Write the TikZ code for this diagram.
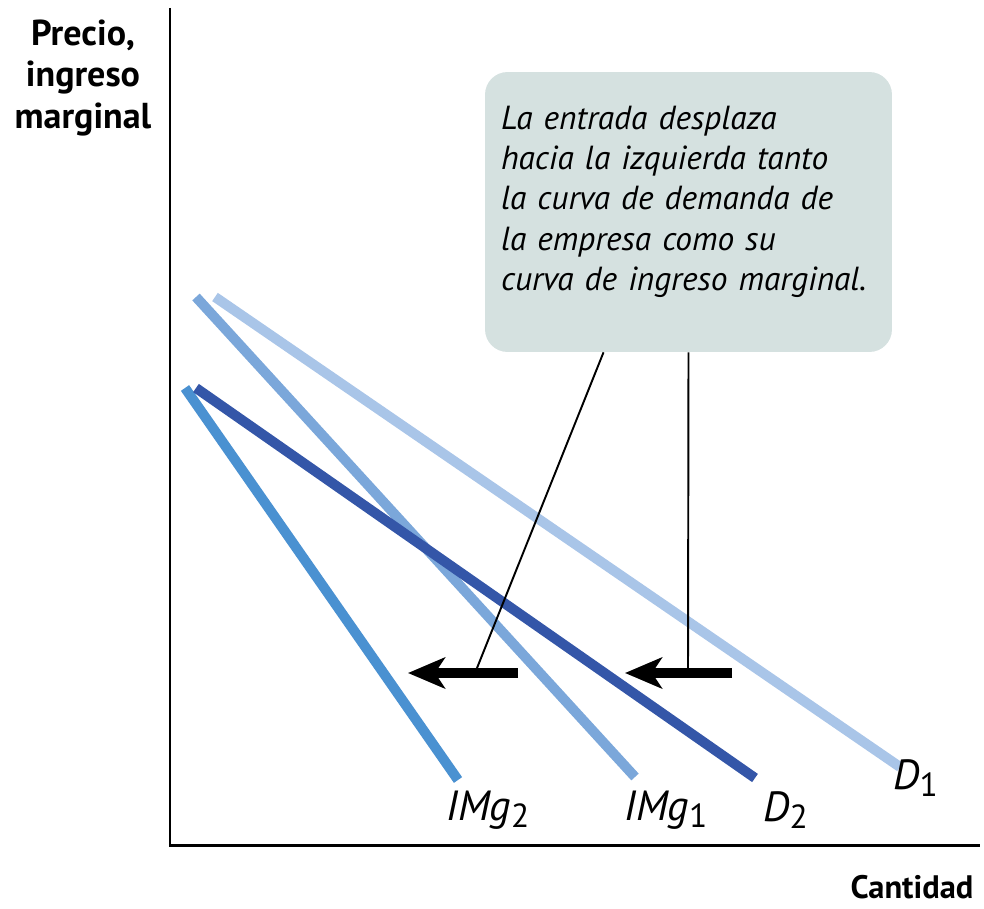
\documentclass[tikz,border=0pt]{standalone}
\usepackage{fontspec}
\setmainfont{PT Sans}
\usetikzlibrary{arrows.meta}
\definecolor{done}{HTML}{A9C5E8}
\definecolor{imgone}{HTML}{7BA7DA}
\definecolor{dtwo}{HTML}{3456A8}
\definecolor{imgtwo}{HTML}{4A91D1}
\definecolor{notefill}{HTML}{D5E1E0}
\newcommand{\curvelbl}[2]{{\itshape #1}\raisebox{-0.35ex}{\fontsize{19}{19}\selectfont #2}}

\begin{document}
\begin{tikzpicture}[x=0.02cm, y=-0.02cm,
  curve/.style={line width=5.7pt},
  shiftarrow/.style={line width=5.7pt, -{Stealth[length=7.4mm, width=6.2mm, inset=2mm]}},
  pointer/.style={line width=1.1pt},
  axislbl/.style={font=\bfseries\fontsize{20.5}{23.8}\selectfont, align=center},
  curvelabel/.style={font=\fontsize{24}{28}\selectfont, anchor=west, inner sep=0pt}]
\useasboundingbox (0,0) rectangle (984,909);
\draw[line width=1.7pt] (170,8) -- (170,845) -- (980,845);
\node[axislbl] (ylabel) at (83,78) {Precio,\\ingreso\\marginal};
\node[axislbl, font=\bfseries\fontsize{18.5}{22.7}\selectfont] (xlabel) at (912,887) {Cantidad};
\draw[curve, done] (215,297) -- (900,767);
\draw[curve, imgone] (196,297) -- (635,777);
\draw[curve, imgtwo] (185,388) -- (458,780);
\draw[curve, dtwo] (196,388) -- (755,778);
\node[curvelabel] (imgtwolbl) at (446,810) {\curvelbl{IMg}{2}};
\node[curvelabel] (imgonelbl) at (624,810) {\curvelbl{IMg}{1}};
\node[curvelabel] (dtwolbl) at (763,810) {\curvelbl{D}{2}};
\node[curvelabel] (donelbl) at (893,778) {\curvelbl{D}{1}};
\node[fill=notefill, rounded corners=0.45cm, text width=7.5cm, inner xsep=0.32cm,
  minimum height=5.6cm, align=left, font=\itshape\fontsize{19}{23}\selectfont]
  (note) at (688.5,212) {La entrada desplaza\\hacia la izquierda tanto\\la curva de demanda de\\la empresa como su\\curva de ingreso marginal.\rule[-0.55cm]{0pt}{0pt}};
\coordinate (leftfrom) at (518,673);
\coordinate (leftto) at (408,673);
\coordinate (rightfrom) at (732,673);
\coordinate (rightto) at (625,673);
\coordinate (lefttip) at (475,673);
\coordinate (righttip) at (688,673);
\draw[pointer] ([xshift=-1.7cm]note.south) -- (lefttip);
\draw[pointer] (note.south) -- (righttip);
\draw[shiftarrow] (leftfrom) -- (leftto);
\draw[shiftarrow] (rightfrom) -- (rightto);
\end{tikzpicture}
\end{document}
